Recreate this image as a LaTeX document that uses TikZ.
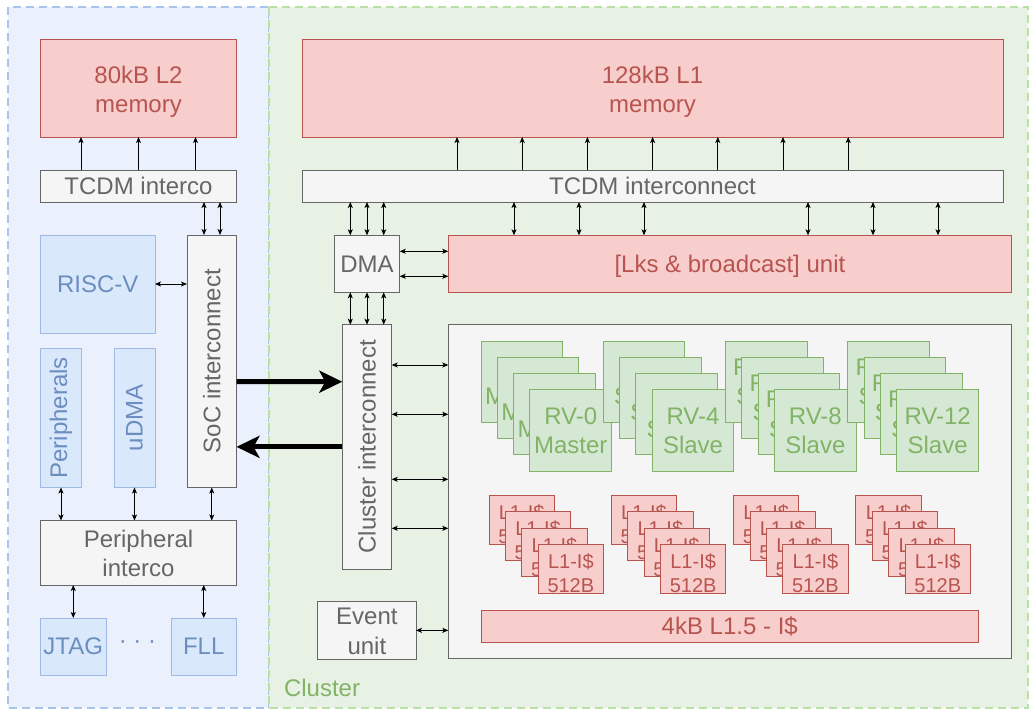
\documentclass[tikz,border=0pt]{standalone}
\usepackage{fontspec}
\setmainfont{Liberation Sans}
\usetikzlibrary{arrows.meta}
\definecolor{redfill}{HTML}{F8CECC}
\definecolor{redline}{HTML}{B85450}
\definecolor{greyfill}{HTML}{F5F5F5}
\definecolor{greyline}{HTML}{666666}
\definecolor{greenfill}{HTML}{D5E8D4}
\definecolor{greenline}{HTML}{82B366}
\definecolor{bluefill}{HTML}{DAE8FC}
\definecolor{blueline}{HTML}{9DB9E4}
\definecolor{bluetext}{HTML}{6C8EBF}
\definecolor{bluebg}{HTML}{EBF1FC}
\definecolor{bluedash}{HTML}{A9C4EB}
\definecolor{greenbg}{HTML}{E7F2E5}
\definecolor{greendash}{HTML}{B9E0A5}
\newcommand\fbig{\fontsize{24}{29.5}\selectfont}
\newcommand\fsmall{\fontsize{20}{24}\selectfont}
\newcommand\lift[1]{\rule{0pt}{#1}}
\begin{document}
\begin{tikzpicture}[x=1pt,y=-1pt,
  every node/.style={inner sep=0pt,outer sep=0pt},
  redbox/.style={draw=redline,fill=redfill,text=redline,line width=1pt,align=center,font=\fbig},
  greybox/.style={draw=greyline,fill=greyfill,text=greyline,line width=1pt,align=center,font=\fbig},
  bluebox/.style={draw=blueline,fill=bluefill,text=bluetext,line width=1pt,align=center,font=\fbig},
  corebox/.style={draw=greenline,fill=greenfill,text=greenline,line width=1pt,align=center,font=\fbig,minimum width=81.5pt,minimum height=81.3pt},
  icbox/.style={draw=redline,fill=redfill,text=redline,line width=1pt,align=center,font=\fsmall,minimum width=65.3pt,minimum height=48.7pt},
  rottext/.style={rotate=90,font=\fbig},
  tip/.tip={Stealth[length=6pt,width=5pt,inset=1.5pt]},
  arr/.style={-tip,line width=0.8pt,black},
  darr/.style={tip-tip,line width=0.8pt,black},
  big/.style={-{Stealth[length=23pt,width=22pt,inset=6pt]},line width=5pt,black}]
\useasboundingbox (0,0) rectangle (1030,709);
% regions
\filldraw[fill=bluebg,draw=bluedash,line width=2pt,dash pattern=on 8pt off 5pt] (8,7) rectangle (269,708);
\filldraw[fill=greenbg,draw=greendash,line width=2pt,dash pattern=on 8pt off 5pt] (269,7) rectangle (1028,708);
\node[text=greenline,font=\fbig,anchor=west] (cltxt) at (284,688) {Cluster};

% ---- SoC side ----
\node[redbox,minimum width=196pt,minimum height=97.5pt] (l2) at (138.5,88.25) {\lift{24.5pt}80kB L2\\memory};
\node[greybox,minimum width=196pt,minimum height=32pt] (tcdmL) at (138.5,186) {TCDM interco};
\node[greybox,minimum width=49.5pt,minimum height=252.5pt] (soc) at (211.75,361.25) {};
\node[rottext,text=greyline] (socT) at (soc) {SoC interconnect};
\node[bluebox,minimum width=114.5pt,minimum height=98pt] (riscv) at (97.75,284) {RISC-V};
\node[bluebox,minimum width=41pt,minimum height=139.5pt] (periph) at (61,417.75) {};
\node[rottext,text=bluetext] (periphT) at (periph) {Peripherals};
\node[bluebox,minimum width=41pt,minimum height=139.5pt] (udma) at (134.5,417.75) {};
\node[rottext,text=bluetext] (udmaT) at (udma) {uDMA};
\node[greybox,minimum width=196pt,minimum height=64.5pt] (pinter) at (138.5,552.75) {\lift{19pt}Peripheral\\interco};
\node[bluebox,minimum width=65.5pt,minimum height=57pt] (jtag) at (73.25,646.5) {JTAG};
\node[bluebox,minimum width=65.5pt,minimum height=57pt] (fll) at (203.75,646.5) {FLL};
\node[text=bluetext,font=\fbig] (dots) at (137.5,645) {· · ·};

\draw[arr] ([xshift=40.5pt]tcdmL.north west) -- ([xshift=40.5pt]l2.south west);
\draw[arr] (tcdmL.north) -- (l2.south);
\draw[arr] ([xshift=155pt]tcdmL.north west) -- ([xshift=155pt]l2.south west);
\draw[darr] ([xshift=163.5pt]tcdmL.south west) -- ([xshift=17pt]soc.north west);
\draw[darr] ([xshift=179.5pt]tcdmL.south west) -- ([xshift=33pt]soc.north west);
\draw[darr] (riscv.east) -- (riscv.east -| soc.west);
\draw[darr] (periph.south) -- (periph.south |- pinter.north);
\draw[darr] (udma.south) -- (udma.south |- pinter.north);
\draw[darr] (soc.south) -- (soc.south |- pinter.north);
\draw[darr] (jtag.north |- pinter.south) -- (jtag.north);
\draw[darr] (fll.north |- pinter.south) -- (fll.north);

% ---- Cluster side ----
\node[redbox,minimum width=701pt,minimum height=97.5pt] (l1) at (652.5,88.25) {\lift{24.5pt}128kB L1\\memory};
\node[greybox,minimum width=701pt,minimum height=32pt] (tcdmR) at (652.5,186) {TCDM interconnect};
\node[greybox,minimum width=65.4pt,minimum height=57pt] (dma) at (367,263.8) {DMA};
\node[redbox,minimum width=563.2pt,minimum height=57pt] (lock) at (729.9,263.8) {\lift{21.5pt}{[}Lks \& broadcast{]} unit};
\node[greybox,minimum width=49.4pt,minimum height=244.3pt] (cic) at (367,446.85) {};
\node[rottext,text=greyline] (cicT) at (cic) {Cluster interconnect};
\node[greybox,minimum width=563.3pt,minimum height=333.6pt] (clbox) at (729.95,491.5) {};
\node[greybox,minimum width=98.3pt,minimum height=57.3pt] (evt) at (366.85,630.35) {\lift{19pt}Event\\unit};
\node[redbox,minimum width=497.5pt,minimum height=32pt] (l15) at (729.75,626) {4kB L1.5 - I\$};

\foreach \g/\num/\bnum/\role in {0/0/0/Master,1/4/4/Slave,2/8/12/Slave,3/12/12/Slave}{
  \foreach \k in {0,1,2}{
    \node[corebox] (core\g-\k) at ({521.75+122.3*\g+16.33*\k},{381.65+16.33*\k}) {RV-\bnum\\\role};
  }
  \node[corebox] (core\g-3) at ({521.75+122.3*\g+16.33*3},{381.65+16.33*3}) {RV-\num\\\role};
  \foreach \k in {0,1,2,3}{
    \node[icbox] (ic\g-\k) at ({521.65+122.3*\g+16.4*\k},{520.05+16.2*\k}) {\lift{23.5pt}L1-I\$\\512B};
  }
}

\foreach \k in {0,...,6}{
  \draw[arr] ([xshift={155+65.2*\k}]tcdmR.north west) -- ([xshift={155+65.2*\k}]l1.south west);
}
\foreach \d in {-16.7,0,16.7}{
  \draw[darr] ([xshift={65+\d}]tcdmR.south west) -- ([xshift=\d]dma.north);
  \draw[darr] ([xshift=\d]dma.south) -- ([xshift=\d]cic.north);
}
\foreach \a/\b in {212/65.7,277/130.7,342/195.7,506/359.7,571/424.7,636/489.7}{
  \draw[darr] ([xshift=\a]tcdmR.south west) -- ([xshift=\b]lock.north west);
}
\draw[darr] ([yshift=12.5pt]dma.east) -- ([yshift=12.5pt]lock.west);
\draw[darr] ([yshift=-12.5pt]dma.east) -- ([yshift=-12.5pt]lock.west);
\foreach \a/\b in {81.85/126.5,32.55/77.2,-32.45/12.2,-81.45/-36.8}{
  \draw[darr] ([yshift=\a]cic.east) -- ([yshift=\b]clbox.west);
}
\draw[darr] (evt.east) -- (evt.east -| clbox.west);

% big arrows between SoC and cluster
\draw[big] ([yshift=-20.45pt]soc.east) -- ([yshift=65.15pt]cic.west);
\draw[big] (cic.west) -- (cic.west -| soc.east);
\end{tikzpicture}
\end{document}
